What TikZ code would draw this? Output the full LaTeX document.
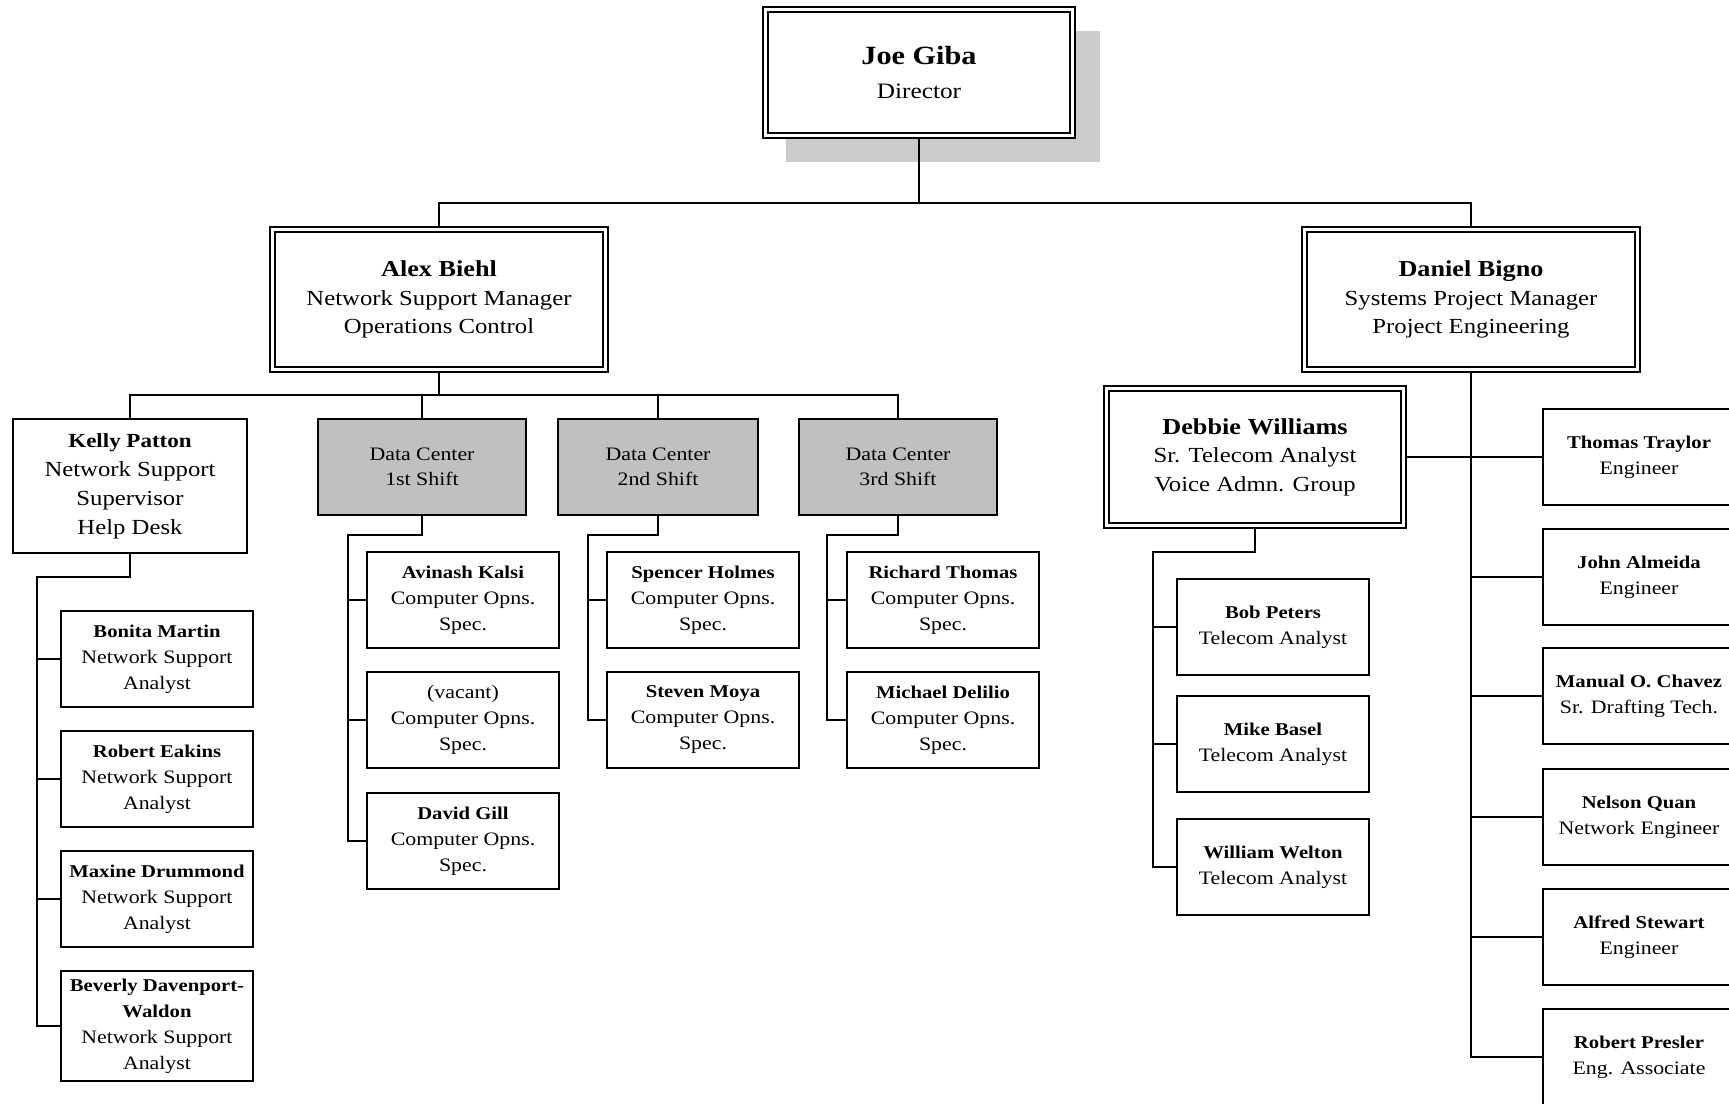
\documentclass[tikz,border=0pt]{standalone}
\usepackage{fontspec}
\setmainfont{Liberation Serif}[FakeStretch=1.15]
\usetikzlibrary{backgrounds}
\definecolor{dcgray}{HTML}{C0C0C0}
\definecolor{shgray}{HTML}{CCCCCC}
\newcommand\nmS[1]{{\fontsize{18}{26}\selectfont\bfseries #1}}
\newcommand\nmM[1]{{\fontsize{22.8}{28.5}\selectfont\bfseries #1}}
\begin{document}
\begin{tikzpicture}[x=1pt,y=-1pt,
  conn/.style={line width=2pt},
  box/.style={draw, line width=2pt, fill=white, inner sep=0pt, align=center,
    minimum width=192pt, minimum height=96pt, font=\fontsize{19}{26}\selectfont},
  dbox/.style={draw, line width=1.8pt, double=white, double distance=3.2pt, fill=white,
    inner sep=0pt, align=center, font=\fontsize{21.5}{28.5}\selectfont},
  dcbox/.style={box, fill=dcgray, font=\fontsize{19}{24.5}\selectfont}]
\useasboundingbox (0,0) rectangle (1729,1103);
\clip (0,0) rectangle (1729,1103);

% top levels
\node[dbox, minimum width=307pt, minimum height=126pt, font=\fontsize{22}{34.3}\selectfont]
  (joe) at (919,72.5) {{\fontsize{26.3}{34.3}\selectfont\bfseries Joe Giba}\\Director};
\node[dbox, minimum width=333pt, minimum height=140pt] (alex) at (439,299.5)
  {\nmM{Alex Biehl}\\Network Support Manager\\Operations Control};
\node[dbox, minimum width=333pt, minimum height=140pt] (daniel) at (1471,299.5)
  {\nmM{Daniel Bigno}\\Systems Project Manager\\Project Engineering};
\node[dbox, minimum width=297pt, minimum height=137pt] (debbie) at (1255,457)
  {\nmM{Debbie Williams}\\Sr. Telecom Analyst\\Voice Admn. Group};

% Kelly and data centers
\node[box, minimum width=234pt, minimum height=134pt, font=\fontsize{21.5}{29}\selectfont]
  (kelly) at (130,486) {{\fontsize{20}{29}\selectfont\bfseries Kelly Patton}\\Network Support\\Supervisor\\Help Desk};
\node[dcbox, minimum width=208pt] (dc1) at (422,467) {Data Center\\1st Shift};
\node[dcbox, minimum width=200pt] (dc2) at (658,467) {Data Center\\2nd Shift};
\node[dcbox, minimum width=198pt] (dc3) at (898,467) {Data Center\\3rd Shift};

% Kelly's team
\node[box] (bonita) at (157,659) {\nmS{Bonita Martin}\\Network Support\\Analyst};
\node[box] (eakins) at (157,779) {\nmS{Robert Eakins}\\Network Support\\Analyst};
\node[box] (maxine) at (157,899) {\nmS{Maxine Drummond}\\Network Support\\Analyst};
\node[box, minimum height=110pt] (beverly) at (157,1026)
  {\nmS{Beverly Davenport-}\\\nmS{Waldon}\\Network Support\\Analyst};

% data center teams
\node[box] (avinash) at (463,600) {\nmS{Avinash Kalsi}\\Computer Opns.\\Spec.};
\node[box] (vacant) at (463,720) {(vacant)\\Computer Opns.\\Spec.};
\node[box] (david) at (463,841) {\nmS{David Gill}\\Computer Opns.\\Spec.};
\node[box] (spencer) at (703,600) {\nmS{Spencer Holmes}\\Computer Opns.\\Spec.};
\node[box] (moya) at (703,720) {\nmS{Steven Moya}\\Computer Opns.\\Spec.};
\node[box] (richard) at (943,600) {\nmS{Richard Thomas}\\Computer Opns.\\Spec.};
\node[box] (delilio) at (943,720) {\nmS{Michael Delilio}\\Computer Opns.\\Spec.};

% Debbie's team
\node[box] (bob) at (1273,627) {\nmS{Bob Peters}\\Telecom Analyst};
\node[box] (mike) at (1273,744) {\nmS{Mike Basel}\\Telecom Analyst};
\node[box] (william) at (1273,867) {\nmS{William Welton}\\Telecom Analyst};

% Daniel's engineers
\node[box] (thomas) at (1639,457) {\nmS{Thomas Traylor}\\Engineer};
\node[box] (john) at (1639,577) {\nmS{John Almeida}\\Engineer};
\node[box] (manual) at (1639,696) {\nmS{Manual O. Chavez}\\Sr. Drafting Tech.};
\node[box] (nelson) at (1639,817) {\nmS{Nelson Quan}\\Network Engineer};
\node[box] (alfred) at (1639,937) {\nmS{Alfred Stewart}\\Engineer};
\node[box] (presler) at (1639,1057) {\nmS{Robert Presler}\\Eng. Associate};

% bus points
\coordinate (l1) at (919,203);
\coordinate (l2) at (439,395);
\coordinate (k0) at (37,577);
\coordinate (k1) at (348,535);
\coordinate (k2) at (588,535);
\coordinate (k3) at (827,535);
\coordinate (d1) at (1153,552);

\begin{scope}[on background layer]
  \fill[shgray] (786,31) rectangle (1100,162);
  \draw[conn] (joe.south) -- (l1);
  \draw[conn] (alex.north) |- (l1) -| (daniel.north);
  \draw[conn] (alex.south) -- (l2);
  \draw[conn] (kelly.north) |- (l2) -| (dc3.north);
  \draw[conn] (dc1.north) -- (dc1.north |- l2);
  \draw[conn] (dc2.north) -- (dc2.north |- l2);
  % Kelly bus
  \draw[conn] (kelly.south) |- (k0) |- (beverly.west);
  \draw[conn] (k0 |- bonita.west) -- (bonita.west);
  \draw[conn] (k0 |- eakins.west) -- (eakins.west);
  \draw[conn] (k0 |- maxine.west) -- (maxine.west);
  % data center buses
  \draw[conn] (dc1.south) |- (k1) |- (david.west);
  \draw[conn] (k1 |- avinash.west) -- (avinash.west);
  \draw[conn] (k1 |- vacant.west) -- (vacant.west);
  \draw[conn] (dc2.south) |- (k2) |- (moya.west);
  \draw[conn] (k2 |- spencer.west) -- (spencer.west);
  \draw[conn] (dc3.south) |- (k3) |- (delilio.west);
  \draw[conn] (k3 |- richard.west) -- (richard.west);
  % Daniel bus
  \draw[conn] (daniel.south) |- (presler.west);
  \draw[conn] (debbie.east) -- (thomas.west);
  \draw[conn] (daniel.south |- john.west) -- (john.west);
  \draw[conn] (daniel.south |- manual.west) -- (manual.west);
  \draw[conn] (daniel.south |- nelson.west) -- (nelson.west);
  \draw[conn] (daniel.south |- alfred.west) -- (alfred.west);
  % Debbie bus
  \draw[conn] (debbie.south) |- (d1) |- (william.west);
  \draw[conn] (d1 |- bob.west) -- (bob.west);
  \draw[conn] (d1 |- mike.west) -- (mike.west);
\end{scope}
\end{tikzpicture}
\end{document}
